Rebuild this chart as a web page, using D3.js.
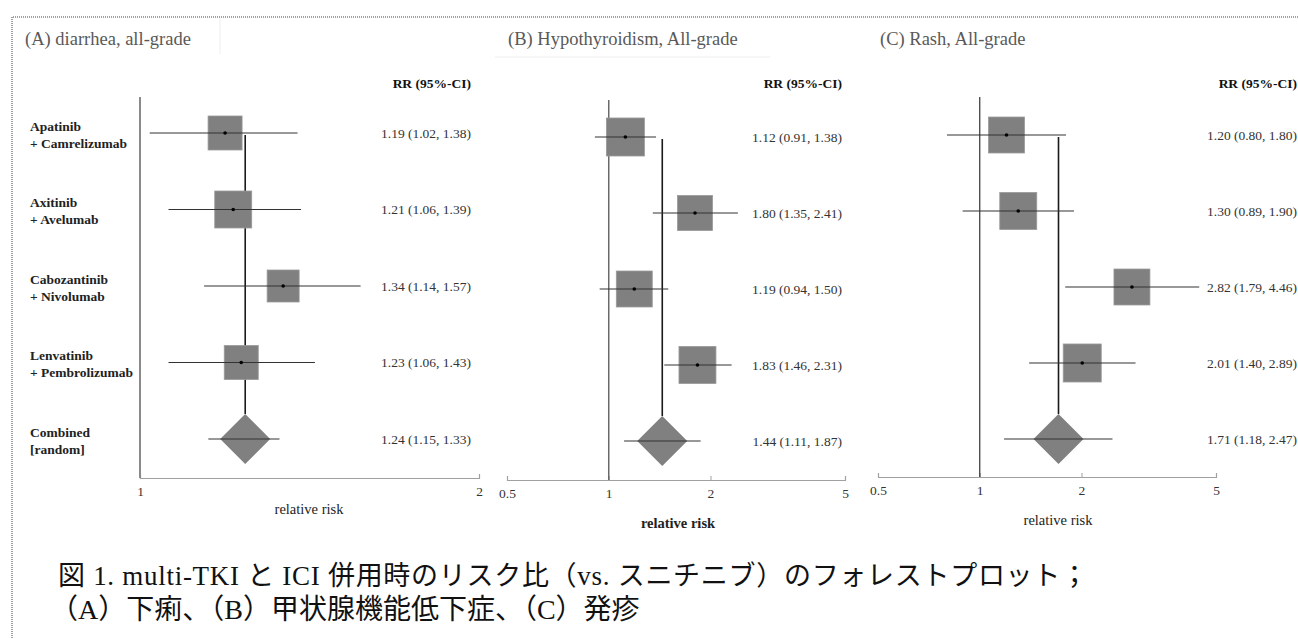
<!DOCTYPE html>
<html>
<head>
<meta charset="utf-8">
<script src="https://cdn.jsdelivr.net/npm/d3@7"></script>
<style>
  html, body { margin: 0; padding: 0; background: #fff; }
  svg { display: block; }
</style>
</head>
<body>
<svg id="chart" width="1298" height="639"></svg>
<script>
// ---------------- data ----------------
const rowLabels = [
  ["Apatinib", "+ Camrelizumab"],
  ["Axitinib", "+ Avelumab"],
  ["Cabozantinib", "+ Nivolumab"],
  ["Lenvatinib", "+ Pembrolizumab"],
  ["Combined", "[random]"]
];
const panelTitles = ["(A) diarrhea, all-grade", "(B) Hypothyroidism, All-grade", "(C) Rash, All-grade"];

// relative risk estimates (last = combined [random])
const rrA    = [1.19, 1.21, 1.34, 1.23, 1.24];
const lowerA = [1.02, 1.06, 1.14, 1.06, 1.15];
const upperA = [1.38, 1.39, 1.57, 1.43, 1.33];
const weightA = [23.6, 27.9, 20.9, 23.6];

const rrB    = [1.12, 1.80, 1.19, 1.83, 1.44];
const lowerB = [0.91, 1.35, 0.94, 1.46, 1.11];
const upperB = [1.38, 2.41, 1.50, 2.31, 1.87];
const weightB = [29.5, 25.0, 26.4, 27.9];

const rrC    = [1.20, 1.30, 2.82, 2.01, 1.71];
const lowerC = [0.80, 0.89, 1.79, 1.40, 1.18];
const upperC = [1.80, 1.90, 4.46, 2.89, 2.47];
const weightC = [26.4, 27.9, 26.4, 29.5];

const ticksA = [1, 2];
const ticksBC = [0.5, 1, 2, 5];
const domainA = [1, 2];
const domainBC = [0.5, 5];

const axisTitle = "relative risk";
const colHeader = "RR (95%-CI)";
const captionLine1 = "図 1. multi-TKI と ICI 併用時のリスク比（vs. スニチニブ）のフォレストプロット；";
const captionLine2 = "（A）下痢、（B）甲状腺機能低下症、（C）発疹";

// ---------------- layout ----------------
const SERIF = '"Liberation Serif", "Times New Roman", serif';
const CAPTION_FONT = '"Liberation Serif", "Noto Sans CJK JP", serif';

const panels = [
  { title: panelTitles[0], titleX: 25, rr: rrA, lo: lowerA, hi: upperA, w: weightA,
    domain: domainA, ticks: ticksA, xr: [140, 479], yr: [133, 439], axisY: 478, refTop: 97,
    refColor: "#8a8a8a", refWidth: 2, textRight: 471, axisTitleX: 309, axisTitleY: 514, axisTitleBold: false, labels: true },
  { title: panelTitles[1], titleX: 508, rr: rrB, lo: lowerB, hi: upperB, w: weightB,
    domain: domainBC, ticks: ticksBC, xr: [507, 845], yr: [137, 441], axisY: 480, refTop: 100,
    refColor: "#6a6a6a", refWidth: 1.5, textRight: 842, axisTitleX: 678, axisTitleY: 528, axisTitleBold: true, labels: false },
  { title: panelTitles[2], titleX: 880, rr: rrC, lo: lowerC, hi: upperC, w: weightC,
    domain: domainBC, ticks: ticksBC, xr: [878, 1216], yr: [135, 439], axisY: 477, refTop: 97,
    refColor: "#333", refWidth: 1.2, textRight: 1297, axisTitleX: 1058, axisTitleY: 525, axisTitleBold: false, labels: false }
];

const svg = d3.select("#chart");
const fmt = d3.format(".2f");
const sizeScale = d3.scaleSqrt().domain([0, 100]).range([0, 70]);
const diamondHalf = 25;

// frame (dotted)
svg.append("path")
  .attr("d", "M12,660 V17 H1320")
  .attr("fill", "none").attr("stroke", "#444").attr("stroke-width", 1)
  .attr("stroke-dasharray", "1,1");

// faint boxes behind titles
svg.append("line").attr("x1", 220).attr("x2", 220).attr("y1", 18).attr("y2", 54)
  .attr("stroke", "#eeeeee");
svg.append("line").attr("x1", 495).attr("x2", 770).attr("y1", 57).attr("y2", 57)
  .attr("stroke", "#eeeeee");

panels.forEach((p, pi) => {
  const g = svg.append("g");
  const x = d3.scaleLog().domain(p.domain).range(p.xr);
  const y = d3.scalePoint().domain(d3.range(rowLabels.length)).range(p.yr);
  const nStudies = rowLabels.length - 1;
  const combIdx = nStudies;

  // panel title
  g.append("text").attr("x", p.titleX).attr("y", 45)
    .style("font-family", SERIF)
    .attr("font-size", 18.5).attr("fill", "#595959").text(p.title);

  // column header
  g.append("text").attr("x", p.textRight).attr("y", 88)
    .style("font-family", SERIF)
    .attr("text-anchor", "end").attr("font-size", 13.5).attr("font-weight", "bold")
    .attr("fill", "#111").text(colHeader);

  // axis
  const axis = d3.axisBottom(x).tickValues(p.ticks).tickFormat(d3.format("~g"))
    .tickSizeInner(-4).tickSizeOuter(-4).tickPadding(8);
  const ag = g.append("g").attr("transform", `translate(0,${p.axisY})`).call(axis);
  ag.select(".domain").attr("stroke", "#a0a0a0").attr("stroke-width", 1.2);
  ag.selectAll(".tick line").attr("stroke", "#a0a0a0");
  ag.selectAll(".tick text").style("font-family", SERIF)
    .attr("font-size", 13.5).attr("fill", "#333");

  // reference line at RR = 1
  g.append("line").attr("x1", x(1)).attr("x2", x(1))
    .attr("y1", p.refTop).attr("y2", p.axisY)
    .attr("stroke", p.refColor).attr("stroke-width", p.refWidth);

  // combined estimate vertical line
  g.append("line").attr("x1", x(p.rr[combIdx])).attr("x2", x(p.rr[combIdx]))
    .attr("y1", y(0) + 2).attr("y2", y(combIdx) - diamondHalf)
    .attr("stroke", "#1a1a1a").attr("stroke-width", 1.6);

  // study squares
  const studies = d3.range(nStudies);
  g.selectAll("rect.sq").data(studies).join("rect").attr("class", "sq")
    .attr("x", i => x(p.rr[i]) - sizeScale(p.w[i]) / 2)
    .attr("y", i => y(i) - sizeScale(p.w[i]) / 2)
    .attr("width", i => sizeScale(p.w[i]))
    .attr("height", i => sizeScale(p.w[i]))
    .attr("fill", "#808080").attr("stroke", "#9a9a9a").attr("stroke-width", 0.8);

  // diamond for combined
  const cx = x(p.rr[combIdx]), cy = y(combIdx);
  g.append("path")
    .attr("d", `M${cx - diamondHalf},${cy} L${cx},${cy - diamondHalf} L${cx + diamondHalf},${cy} L${cx},${cy + diamondHalf} Z`)
    .attr("fill", "#808080");

  // CI lines
  g.selectAll("line.ci").data(d3.range(rowLabels.length)).join("line").attr("class", "ci")
    .attr("x1", i => x(p.lo[i])).attr("x2", i => x(p.hi[i]))
    .attr("y1", i => y(i)).attr("y2", i => y(i))
    .attr("stroke", "#333").attr("stroke-width", 1.1);

  // point dots
  g.selectAll("circle.pt").data(studies).join("circle").attr("class", "pt")
    .attr("cx", i => x(p.rr[i])).attr("cy", i => y(i)).attr("r", 1.8).attr("fill", "#000");

  // values text
  g.selectAll("text.val").data(d3.range(rowLabels.length)).join("text").attr("class", "val")
    .style("font-family", SERIF)
    .attr("x", p.textRight).attr("y", i => y(i) + 4.5)
    .attr("text-anchor", "end").attr("font-size", 13.5).attr("fill", "#333")
    .text(i => `${fmt(p.rr[i])} (${fmt(p.lo[i])}, ${fmt(p.hi[i])})`);

  // axis title
  g.append("text").attr("x", p.axisTitleX).attr("y", p.axisTitleY)
    .style("font-family", SERIF)
    .attr("text-anchor", "middle").attr("font-size", 14.5)
    .attr("font-weight", p.axisTitleBold ? "bold" : "normal")
    .attr("fill", "#222").text(axisTitle);

  // row labels
  if (p.labels) {
    const lg = g.selectAll("text.lab").data(d3.range(rowLabels.length)).join("text")
      .attr("class", "lab").attr("x", 30).attr("y", i => y(i) - 2.5)
      .style("font-family", SERIF)
      .attr("font-size", 13.5).attr("font-weight", "bold").attr("fill", "#222");
    lg.append("tspan").attr("x", 30).text(i => rowLabels[i][0]);
    lg.append("tspan").attr("x", 30).attr("dy", 17).text(i => rowLabels[i][1]);
  }
});

// caption
svg.append("text").attr("x", 58).attr("y", 585)
  .style("font-family", CAPTION_FONT)
  .attr("font-size", 27).attr("fill", "#111")
  .attr("textLength", 1030).attr("lengthAdjust", "spacing")
  .text(captionLine1);
svg.append("text").attr("x", 50).attr("y", 619)
  .style("font-family", CAPTION_FONT)
  .attr("font-size", 28).attr("fill", "#111")
  .text(captionLine2);
</script>
</body>
</html>
